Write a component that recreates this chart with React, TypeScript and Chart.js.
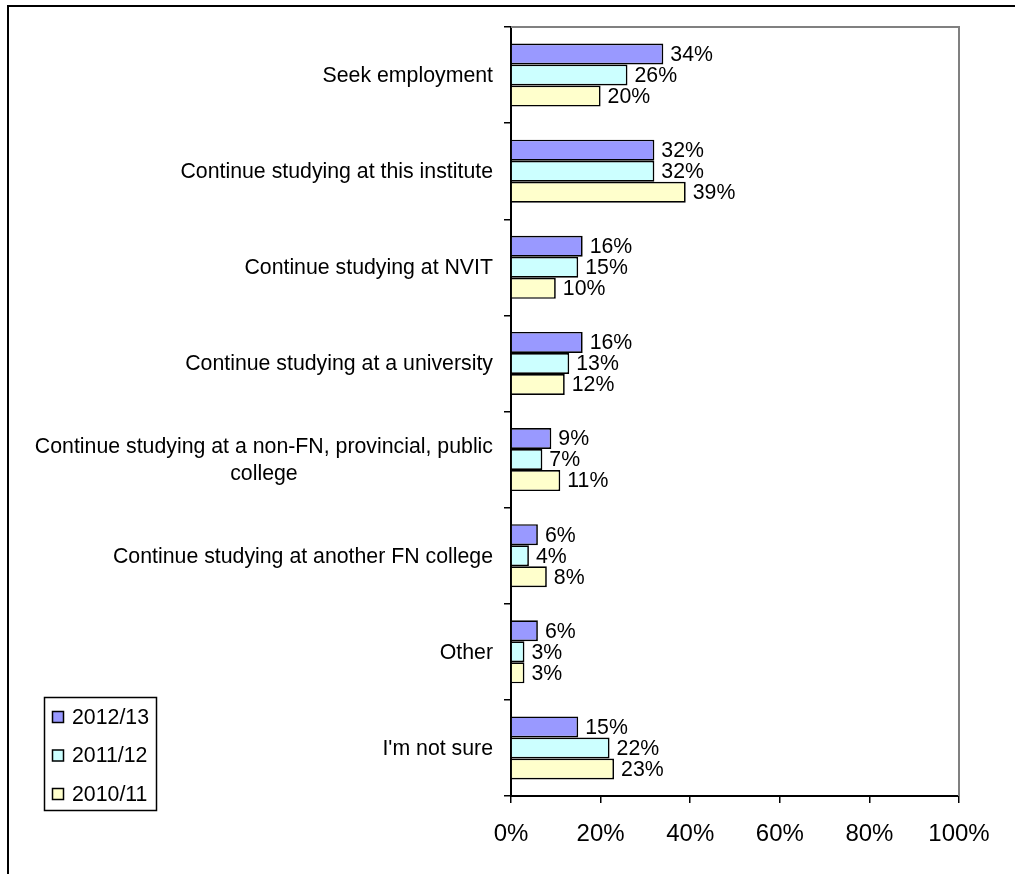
import React, { useEffect, useRef } from "react";
import { Chart, registerables } from "chart.js";

Chart.register(...registerables);

const categories: (string | string[])[] = [
  "Seek employment",
  "Continue studying at this institute",
  "Continue studying at NVIT",
  "Continue studying at a university",
  ["Continue studying at a non-FN, provincial, public", "college"],
  "Continue studying at another FN college",
  "Other",
  "I'm not sure",
];
const series2012 = [34, 32, 16, 16, 9, 6, 6, 15];
const series2011 = [26, 32, 15, 13, 7, 4, 3, 22];
const series2010 = [20, 39, 10, 12, 11, 8, 3, 23];
const seriesNames = ["2012/13", "2011/12", "2010/11"];
const seriesColors = ["#9999FF", "#CCFFFF", "#FFFFCC"];
const xTickMin = 0;
const xTickMax = 100;
const xTickStep = 20;

const FONT = '"Liberation Sans", Arial, sans-serif';

const customPlugin = {
  id: "customDraw",
  afterDatasetsDraw(chart: any) {
    const ctx = chart.ctx as CanvasRenderingContext2D;
    const { left, right, top, bottom } = chart.chartArea;
    ctx.save();
    // gray frame (top, right)
    ctx.strokeStyle = "#808080";
    ctx.lineWidth = 2;
    ctx.beginPath();
    ctx.moveTo(left, top);
    ctx.lineTo(right, top);
    ctx.lineTo(right, bottom);
    ctx.stroke();

    // data labels
    ctx.font = `21.3px ${FONT}`;
    ctx.fillStyle = "#000";
    ctx.textBaseline = "middle";
    ctx.textAlign = "left";
    chart.data.datasets.forEach((ds: any, i: number) => {
      const meta = chart.getDatasetMeta(i);
      meta.data.forEach((bar: any, j: number) => {
        ctx.fillText(ds.data[j] + "%", bar.x + 7, bar.y + 1);
      });
    });

    // category labels
    const yScale = chart.scales.y;
    const rightEdge = left - 18;
    const lineH = 26.5;
    categories.forEach((c, i) => {
      const yc = yScale.getPixelForValue(i);
      const lines = Array.isArray(c) ? c : [c];
      if (lines.length === 1) {
        ctx.textAlign = "right";
        ctx.fillText(lines[0], rightEdge, yc + 1);
      } else {
        const maxW = Math.max(...lines.map((l) => ctx.measureText(l).width));
        const cx = rightEdge - maxW / 2;
        ctx.textAlign = "center";
        lines.forEach((l, k) => {
          const y = yc + (k - (lines.length - 1) / 2) * lineH;
          ctx.fillText(l, cx, y + 1);
        });
      }
    });

    // legend
    ctx.strokeStyle = "#000";
    ctx.lineWidth = 1.5;
    ctx.fillStyle = "#fff";
    ctx.fillRect(44, 697, 113, 114);
    ctx.strokeRect(44.5, 697.5, 112, 113);
    const itemY = [717, 755.5, 794];
    ctx.textAlign = "left";
    seriesNames.forEach((name, i) => {
      ctx.fillStyle = seriesColors[i];
      ctx.fillRect(52, itemY[i] - 6, 12, 12);
      ctx.strokeStyle = "#000";
      ctx.lineWidth = 1.5;
      ctx.strokeRect(52.5, itemY[i] - 5.5, 11, 11);
      ctx.fillStyle = "#000";
      ctx.fillText(name, 72, itemY[i] + 1);
    });
    ctx.restore();
  },
};

export default function App() {
  const canvasRef = useRef<HTMLCanvasElement | null>(null);

  useEffect(() => {
    if (!canvasRef.current) return;
    const allSeries = [series2012, series2011, series2010];
    const chart = new Chart(canvasRef.current, {
      type: "bar",
      data: {
        labels: categories as any,
        datasets: seriesNames.map((name, i) => ({
          label: name,
          data: allSeries[i],
          backgroundColor: seriesColors[i],
          borderColor: "#000",
          borderWidth: 1.7,
          barPercentage: 1,
          categoryPercentage: 0.656,
        })),
      },
      options: {
        indexAxis: "y",
        responsive: false,
        animation: false,
        layout: { padding: { top: 27, right: 56, left: 0, bottom: 0 } },
        plugins: {
          legend: { display: false },
          tooltip: { enabled: false },
        },
        scales: {
          x: {
            type: "linear",
            min: xTickMin,
            max: xTickMax,
            ticks: {
              stepSize: xTickStep,
              callback: (v: any) => v + "%",
              font: { size: 24, family: FONT },
              color: "#000",
              padding: 17,
              maxRotation: 0,
            },
            grid: {
              drawOnChartArea: false,
              drawTicks: true,
              tickLength: 7,
              color: "#000",
              lineWidth: 1.5,
            },
            border: { display: true, color: "#000", width: 2 },
            afterFit: (s: any) => {
              s.height = 78;
            },
          },
          y: {
            type: "category",
            offset: true,
            ticks: { display: false },
            grid: {
              offset: true,
              drawOnChartArea: false,
              drawTicks: true,
              tickLength: 7,
              color: "#000",
              lineWidth: 1.5,
            },
            border: { display: true, color: "#000", width: 2 },
            afterFit: (s: any) => {
              s.width = 511;
            },
          },
        },
      } as any,
      plugins: [customPlugin],
    });
    return () => chart.destroy();
  }, []);

  return (
    <>
      <div
        style={{
          position: "fixed",
          left: 7,
          top: 5,
          width: 2000,
          height: 2000,
          borderTop: "2px solid #000",
          borderLeft: "2px solid #000",
          background: "#fff",
        }}
      />
      <canvas
        ref={canvasRef}
        width={1015}
        height={874}
        style={{ position: "fixed", left: 0, top: 0, width: 1015, height: 874 }}
      />
    </>
  );
}
